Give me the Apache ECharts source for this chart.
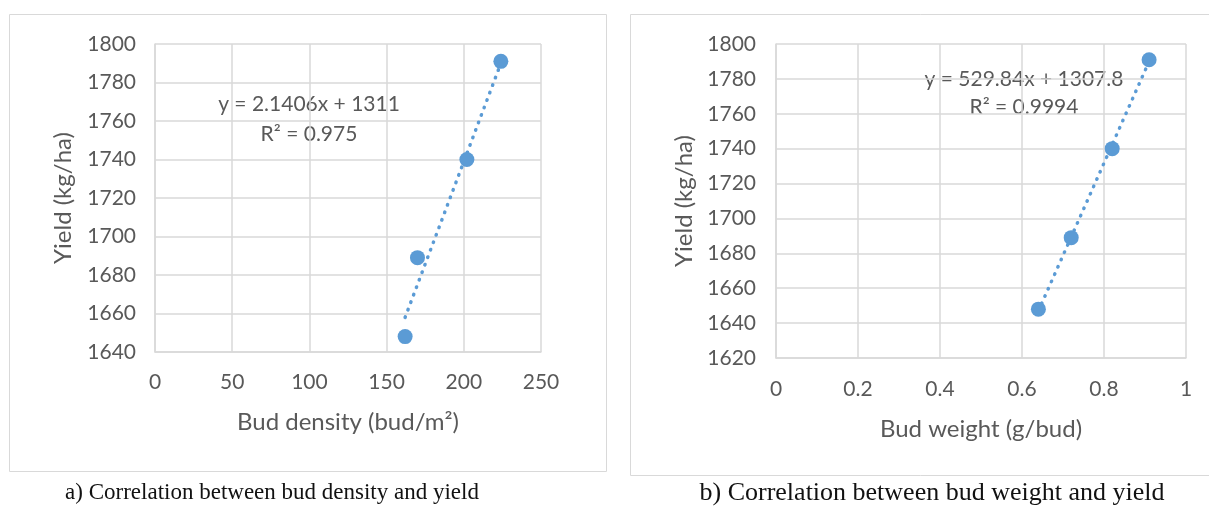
<!DOCTYPE html>
<html>
<head>
<meta charset="utf-8">
<script src="https://cdn.jsdelivr.net/npm/echarts@6/dist/echarts.min.js"></script>
<style>
  html, body { margin: 0; padding: 0; background: #fff; }
  #chart { width: 1209px; height: 506px; }
</style>
</head>
<body>
<div id="chart"></div>
<script>
// chart a: bud density vs yield
var densityX = [162, 170, 202, 224];
var densityYield = [1648, 1689, 1740, 1791];
var densityTrendX = [162, 224];
var densityTrendY = [1658, 1790];
var densityXTicks = [0, 50, 100, 150, 200, 250];
var densityYTicks = [1640, 1660, 1680, 1700, 1720, 1740, 1760, 1780, 1800];

// chart b: bud weight vs yield
var weightX = [0.64, 0.72, 0.82, 0.91];
var weightYield = [1648, 1689, 1740, 1791];
var weightTrendX = [0.64, 0.91];
var weightTrendY = [1647, 1790];
var weightXTicks = [0, 0.2, 0.4, 0.6, 0.8, 1];
var weightYTicks = [1620, 1640, 1660, 1680, 1700, 1720, 1740, 1760, 1780, 1800];

var blue = "#5b9bd5";
var gridGray = "#d9d9d9";
var textGray = "#595959";
var sans = "Lato";

function pairs(xs, ys) {
  return xs.map(function(x, i) { return [x, ys[i]]; });
}

function valueAxis(idx, ticks, extra) {
  var ax = {
    type: "value",
    gridIndex: idx,
    min: ticks[0],
    max: ticks[ticks.length - 1],
    interval: ticks[1] - ticks[0],
    axisLine: { show: true, lineStyle: { color: gridGray, width: 1.5 } },
    axisTick: { show: false },
    splitLine: { show: true, lineStyle: { color: gridGray, width: 1.5 } },
    axisLabel: {
      color: textGray, fontFamily: sans, fontSize: 21,
      formatter: function(v) { return String(v); } // no thousand separators
    },
    nameLocation: "middle",
    nameTextStyle: { color: textGray, fontFamily: sans, fontSize: 24 }
  };
  for (var k in extra) {
    if (k === "axisLabel") Object.assign(ax.axisLabel, extra[k]);
    else ax[k] = extra[k];
  }
  return ax;
}

var myChart = echarts.init(document.getElementById("chart"));
myChart.setOption({
  animation: false,
  grid: [
    { left: 155, top: 44, width: 386, height: 308 },
    { left: 776, top: 44, width: 410, height: 314 }
  ],
  xAxis: [
    valueAxis(0, densityXTicks, { name: "Bud density (bud/m²)", nameGap: 58, axisLabel: { margin: 20 } }),
    valueAxis(1, weightXTicks, { name: "Bud weight (g/bud)", nameGap: 59, axisLabel: { margin: 21 } })
  ],
  yAxis: [
    valueAxis(0, densityYTicks, { name: "Yield (kg/ha)", nameGap: 80, axisLabel: { margin: 19 } }),
    valueAxis(1, weightYTicks, { name: "Yield (kg/ha)", nameGap: 80, axisLabel: { margin: 20 } })
  ],
  series: [
    {
      type: "line", xAxisIndex: 0, yAxisIndex: 0,
      data: pairs(densityTrendX, densityTrendY),
      symbol: "none", silent: true, z: 2,
      lineStyle: { color: blue, width: 3.5, type: [0.5, 7.5], cap: "round" }
    },
    {
      type: "scatter", xAxisIndex: 0, yAxisIndex: 0,
      data: pairs(densityX, densityYield),
      symbolSize: 15, z: 3,
      itemStyle: { color: blue, opacity: 1 }
    },
    {
      type: "line", xAxisIndex: 1, yAxisIndex: 1,
      data: pairs(weightTrendX, weightTrendY),
      symbol: "none", silent: true, z: 2,
      lineStyle: { color: blue, width: 3.5, type: [0.5, 7.5], cap: "round" }
    },
    {
      type: "scatter", xAxisIndex: 1, yAxisIndex: 1,
      data: pairs(weightX, weightYield),
      symbolSize: 15, z: 3,
      itemStyle: { color: blue, opacity: 1 }
    }
  ],
  graphic: [
    // chart frames
    { type: "rect", shape: { x: 9.5, y: 14.5, width: 597, height: 457 }, style: { fill: null, stroke: gridGray, lineWidth: 1 }, z: -1 },
    { type: "rect", shape: { x: 630.5, y: 14.5, width: 590, height: 461 }, style: { fill: null, stroke: gridGray, lineWidth: 1 }, z: -1 },
    // trendline equations
    { type: "text", x: 309, y: 104, style: { text: "y = 2.1406x + 1311", fill: textGray, font: "21px Lato", align: "center", verticalAlign: "middle" } },
    { type: "text", x: 309, y: 134, style: { text: "R² = 0.975", fill: textGray, font: "21px Lato", align: "center", verticalAlign: "middle" } },
    { type: "text", x: 1024, y: 79, style: { text: "y = 529.84x + 1307.8", fill: textGray, font: "21px Lato", align: "center", verticalAlign: "middle" } },
    { type: "text", x: 1024, y: 107, style: { text: "R² = 0.9994", fill: textGray, font: "21px Lato", align: "center", verticalAlign: "middle" } },
    // captions
    { type: "text", x: 272, y: 493, style: { text: "a) Correlation between bud density and yield", fill: "#111", font: "23px 'Liberation Serif'", align: "center", verticalAlign: "middle" } },
    { type: "text", x: 932, y: 493, style: { text: "b) Correlation between bud weight and yield", fill: "#111", font: "26px 'Liberation Serif'", align: "center", verticalAlign: "middle" } }
  ]
});
</script>
</body>
</html>
